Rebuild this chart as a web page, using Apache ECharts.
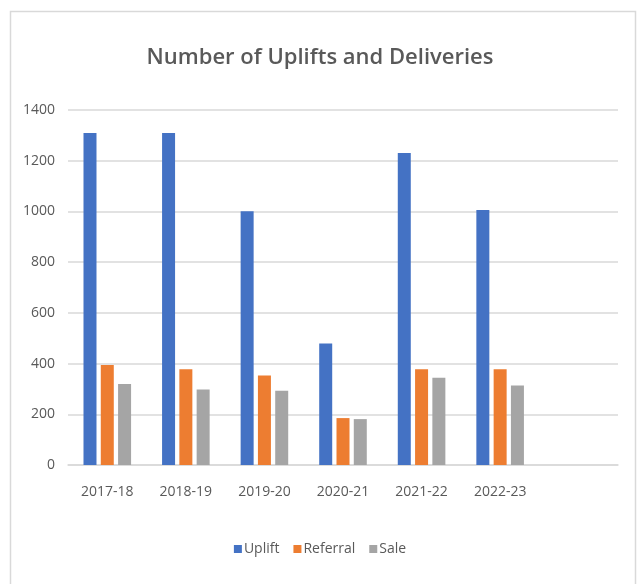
<!DOCTYPE html>
<html lang="en">
<head>
    <meta charset="UTF-8"/>
    <style>
        html, body { margin: 0; padding: 0; background: #fff; }
    </style>
</head>
<body>

<div id="main" style="width: 640px;height:584px;"></div>

<script src="https://cdn.jsdelivr.net/npm/echarts@6/dist/echarts.min.js"></script>
<script type="text/javascript">

    // data
    var categories = ['2017-18', '2018-19', '2019-20', '2020-21', '2021-22', '2022-23', ''];
    var upliftData = [1309, 1309, 1001, 479, 1230, 1006];
    var referralData = [394, 378, 353, 185, 378, 378];
    var saleData = [319, 298, 293, 181, 344, 314];
    var yTicks = [0, 200, 400, 600, 800, 1000, 1200, 1400];

    var fontName = '"Open Sans", sans-serif';
    var textGrey = '#595959';

    DrawEChart(echarts);

    function DrawEChart(echarts) {
        var myChart = echarts.init(document.getElementById('main'));

        var options = {
            backgroundColor: '#fff',
            textStyle: { fontFamily: fontName },
            title: {
                text: 'Number of Uplifts and Deliveries',
                left: 'center',
                top: 42,
                textStyle: {
                    fontFamily: fontName,
                    fontSize: 22,
                    fontWeight: 600,
                    color: textGrey
                }
            },
            graphic: [{
                type: 'rect',
                shape: { x: 10.5, y: 11.5, width: 625, height: 600 },
                style: { fill: 'none', stroke: '#d9d9d9', lineWidth: 1.5 },
                silent: true
            }],
            legend: {
                bottom: 23,
                left: 'center',
                itemWidth: 8,
                itemHeight: 8,
                itemGap: 14,
                icon: 'rect',
                textStyle: { fontFamily: fontName, fontSize: 14, color: textGrey, padding: [0, 0, 0, -3] },
                data: ['Uplift', 'Referral', 'Sale']
            },
            grid: {
                left: 68,
                right: 22,
                top: 110,
                bottom: 119
            },
            xAxis: [{
                type: 'category',
                data: categories,
                axisLine: { lineStyle: { color: '#d9d9d9', width: 1.5 } },
                axisTick: { show: false },
                axisLabel: { fontFamily: fontName, fontSize: 14, color: textGrey, margin: 20 }
            }],
            yAxis: [{
                type: 'value',
                min: yTicks[0],
                max: yTicks[yTicks.length - 1],
                interval: 200,
                axisLine: { show: false },
                axisTick: { show: false },
                axisLabel: {
                    fontFamily: fontName, fontSize: 14, color: textGrey, margin: 13,
                    formatter: function (v) { return String(v); }
                },
                splitLine: { lineStyle: { color: '#d9d9d9', width: 1.5 } }
            }],
            series: [
                {
                    name: 'Uplift',
                    type: 'bar',
                    barWidth: 13,
                    barGap: '33%',
                    itemStyle: { color: '#4472c4' },
                    data: upliftData
                },
                {
                    name: 'Referral',
                    type: 'bar',
                    barWidth: 13,
                    barGap: '33%',
                    itemStyle: { color: '#ed7d31' },
                    data: referralData
                },
                {
                    name: 'Sale',
                    type: 'bar',
                    barWidth: 13,
                    barGap: '33%',
                    itemStyle: { color: '#a5a5a5' },
                    data: saleData
                }
            ]
        };

        myChart.setOption(options);
    }

</script>

</body>
</html>
